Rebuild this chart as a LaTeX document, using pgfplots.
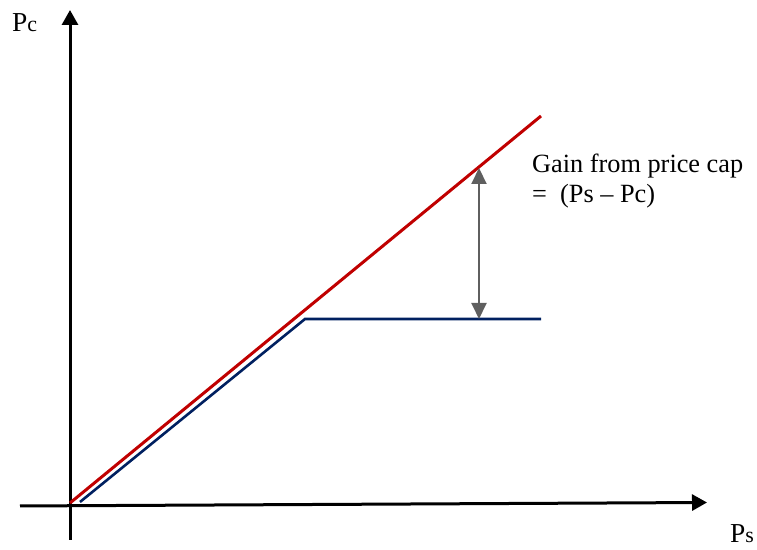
\documentclass[border=0pt]{standalone}
\usepackage{pgfplots}
\pgfplotsset{compat=1.18}
\usepackage{fontspec}
\setmainfont{Liberation Serif}
\usetikzlibrary{arrows.meta}
\definecolor{capred}{HTML}{C00000}
\definecolor{capblue}{HTML}{002060}
\definecolor{capgray}{HTML}{5F5F5F}
\begin{document}
\begin{tikzpicture}
\begin{axis}[name=ax, scale only axis, width=757bp, height=550bp,
  xmin=0, xmax=757, ymin=0, ymax=550, hide axis, clip=false]
% axes
\addplot[black, line width=3bp, -{Triangle[width=16bp,length=15bp]}] coordinates {(70,10) (70,540)};
\addplot[black, line width=3bp, -{Triangle[width=16bp,length=15bp]}] coordinates {(20,44) (707,47.5)};
% red line
\addplot[capred, line width=3bp] coordinates {(70,47) (541,434)};
% blue line
\addplot[capblue, line width=2.6bp] coordinates {(80,48) (305,231) (541,231)};
% gain arrow
\addplot[capgray, line width=2bp, {Triangle[width=15bp,length=16bp]}-{Triangle[width=15bp,length=16bp]}] coordinates {(479,231) (479,382)};
% labels
\node[anchor=base west, inner sep=0pt, font=\fontsize{26.4}{30}\selectfont] at (axis cs:532,377) {Gain from price cap};
\node[anchor=base west, inner sep=0pt, font=\fontsize{26.4}{30}\selectfont] at (axis cs:532,347) {= \ (Ps – Pc)};
\node[anchor=base west, inner sep=0pt] at (axis cs:12,518) {\fontsize{27.5}{30}\selectfont P\fontsize{22}{26}\selectfont c};
\node[anchor=base west, inner sep=0pt] at (axis cs:730,7) {\fontsize{27.5}{30}\selectfont P\fontsize{22}{26}\selectfont s};
\end{axis}
\pgfresetboundingbox
\path[use as bounding box] (ax.south west) rectangle (ax.north east);
\end{tikzpicture}
\end{document}
